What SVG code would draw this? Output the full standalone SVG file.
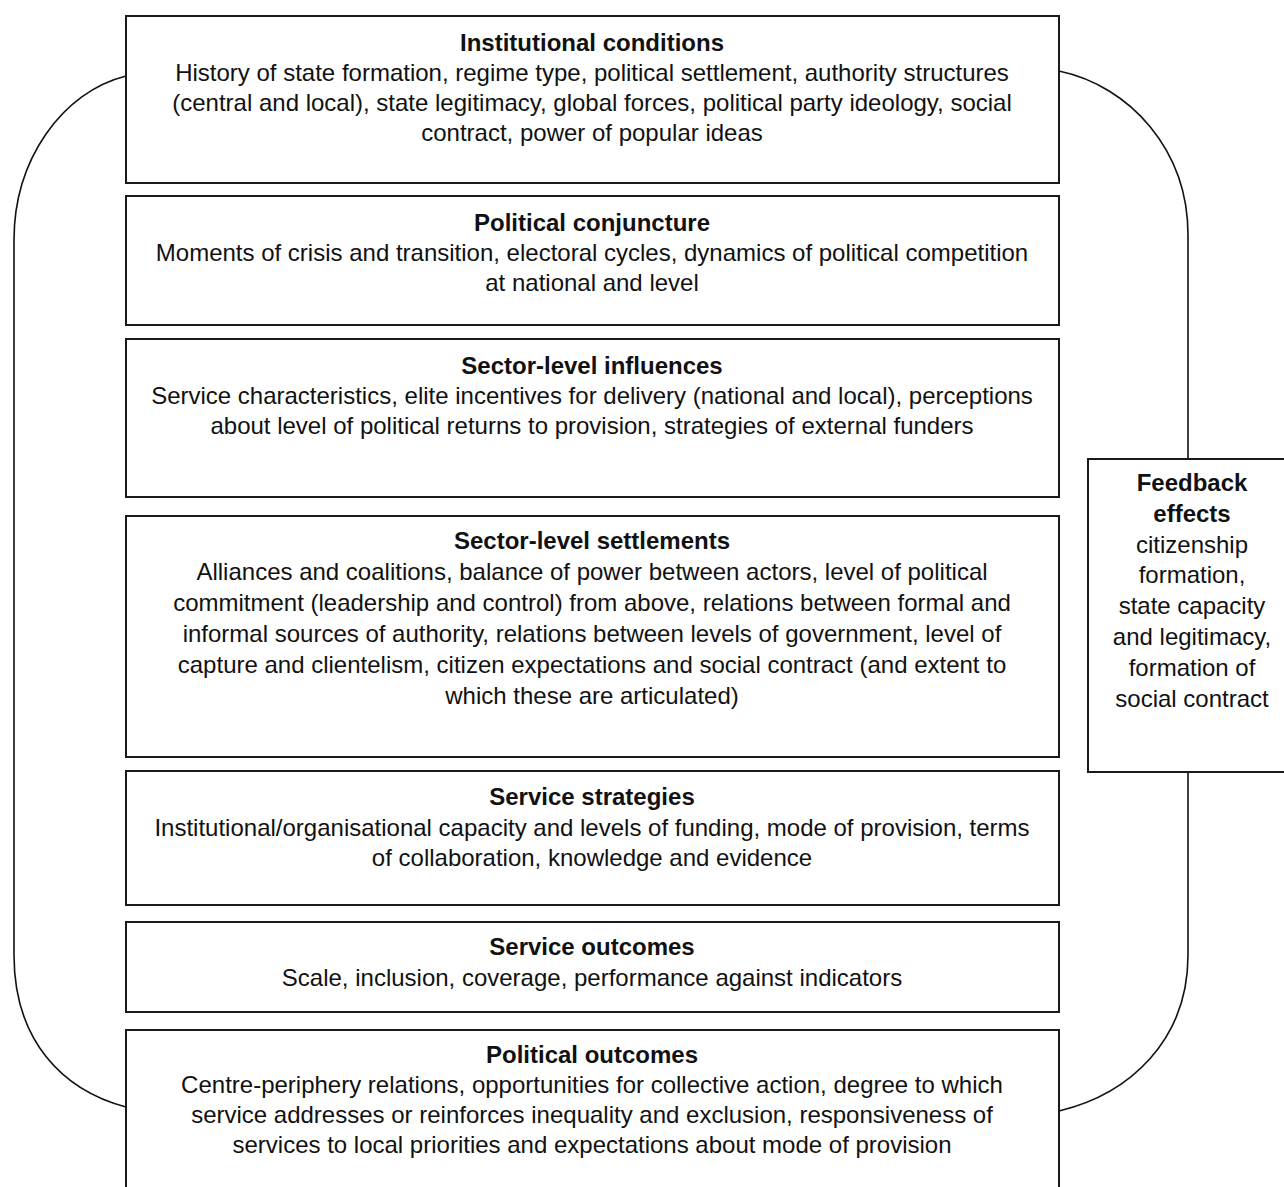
<svg xmlns="http://www.w3.org/2000/svg" width="1284" height="1187" viewBox="0 0 1284 1187">
<style>
.box{fill:#fff;stroke:#1a1a1a;stroke-width:2}
.t{font-family:"Liberation Sans",Arial,sans-serif;font-size:24px;fill:#111;text-anchor:middle}
.b{font-weight:bold}
.c{fill:none;stroke:#111;stroke-width:1.6}
</style>
<rect width="1284" height="1187" fill="#fff"/>
<g id="connectors">
<path class="c" d="M126,76 C62,92 14,160 14,240 L14,955 C14,1040 62,1090 126,1107"/>
<path class="c" d="M1059,71 C1130,86 1188,150 1188,235 L1188,459"/>
<path class="c" d="M1188,772 L1188,955 C1188,1040 1130,1094 1059,1111"/>
</g>
<g id="institutional-conditions">
<rect class="box" x="126" y="16" width="933" height="167"/>
<text class="t b" x="592" y="51">Institutional conditions</text>
<text class="t" x="592" y="81">History of state formation, regime type, political settlement, authority structures</text>
<text class="t" x="592" y="111">(central and local), state legitimacy, global forces, political party ideology, social</text>
<text class="t" x="592" y="141">contract, power of popular ideas</text>
</g>
<g id="political-conjuncture">
<rect class="box" x="126" y="196" width="933" height="129"/>
<text class="t b" x="592" y="231">Political conjuncture</text>
<text class="t" x="592" y="261">Moments of crisis and transition, electoral cycles, dynamics of political competition</text>
<text class="t" x="592" y="291">at national and level</text>
</g>
<g id="sector-level-influences">
<rect class="box" x="126" y="339" width="933" height="158"/>
<text class="t b" x="592" y="374">Sector-level influences</text>
<text class="t" x="592" y="404">Service characteristics, elite incentives for delivery (national and local), perceptions</text>
<text class="t" x="592" y="434">about level of political returns to provision, strategies of external funders</text>
</g>
<g id="sector-level-settlements">
<rect class="box" x="126" y="516" width="933" height="241"/>
<text class="t b" x="592" y="549">Sector-level settlements</text>
<text class="t" x="592" y="580">Alliances and coalitions, balance of power between actors, level of political</text>
<text class="t" x="592" y="611">commitment (leadership and control) from above, relations between formal and</text>
<text class="t" x="592" y="642">informal sources of authority, relations between levels of government, level of</text>
<text class="t" x="592" y="673">capture and clientelism, citizen expectations and social contract (and extent to</text>
<text class="t" x="592" y="704">which these are articulated)</text>
</g>
<g id="service-strategies">
<rect class="box" x="126" y="771" width="933" height="134"/>
<text class="t b" x="592" y="805">Service strategies</text>
<text class="t" x="592" y="836">Institutional/organisational capacity and levels of funding, mode of provision, terms</text>
<text class="t" x="592" y="866">of collaboration, knowledge and evidence</text>
</g>
<g id="service-outcomes">
<rect class="box" x="126" y="922" width="933" height="90"/>
<text class="t b" x="592" y="955">Service outcomes</text>
<text class="t" x="592" y="986">Scale, inclusion, coverage, performance against indicators</text>
</g>
<g id="political-outcomes">
<rect class="box" x="126" y="1030" width="933" height="180"/>
<text class="t b" x="592" y="1063">Political outcomes</text>
<text class="t" x="592" y="1093">Centre-periphery relations, opportunities for collective action, degree to which</text>
<text class="t" x="592" y="1123">service addresses or reinforces inequality and exclusion, responsiveness of</text>
<text class="t" x="592" y="1153">services to local priorities and expectations about mode of provision</text>
</g>
<g id="feedback-effects">
<rect class="box" x="1088" y="459" width="210" height="313"/>
<text class="t b" x="1192" y="491">Feedback</text>
<text class="t b" x="1192" y="522">effects</text>
<text class="t" x="1192" y="553">citizenship</text>
<text class="t" x="1192" y="583">formation,</text>
<text class="t" x="1192" y="614">state capacity</text>
<text class="t" x="1192" y="645">and legitimacy,</text>
<text class="t" x="1192" y="676">formation of</text>
<text class="t" x="1192" y="707">social contract</text>
</g>
</svg>
